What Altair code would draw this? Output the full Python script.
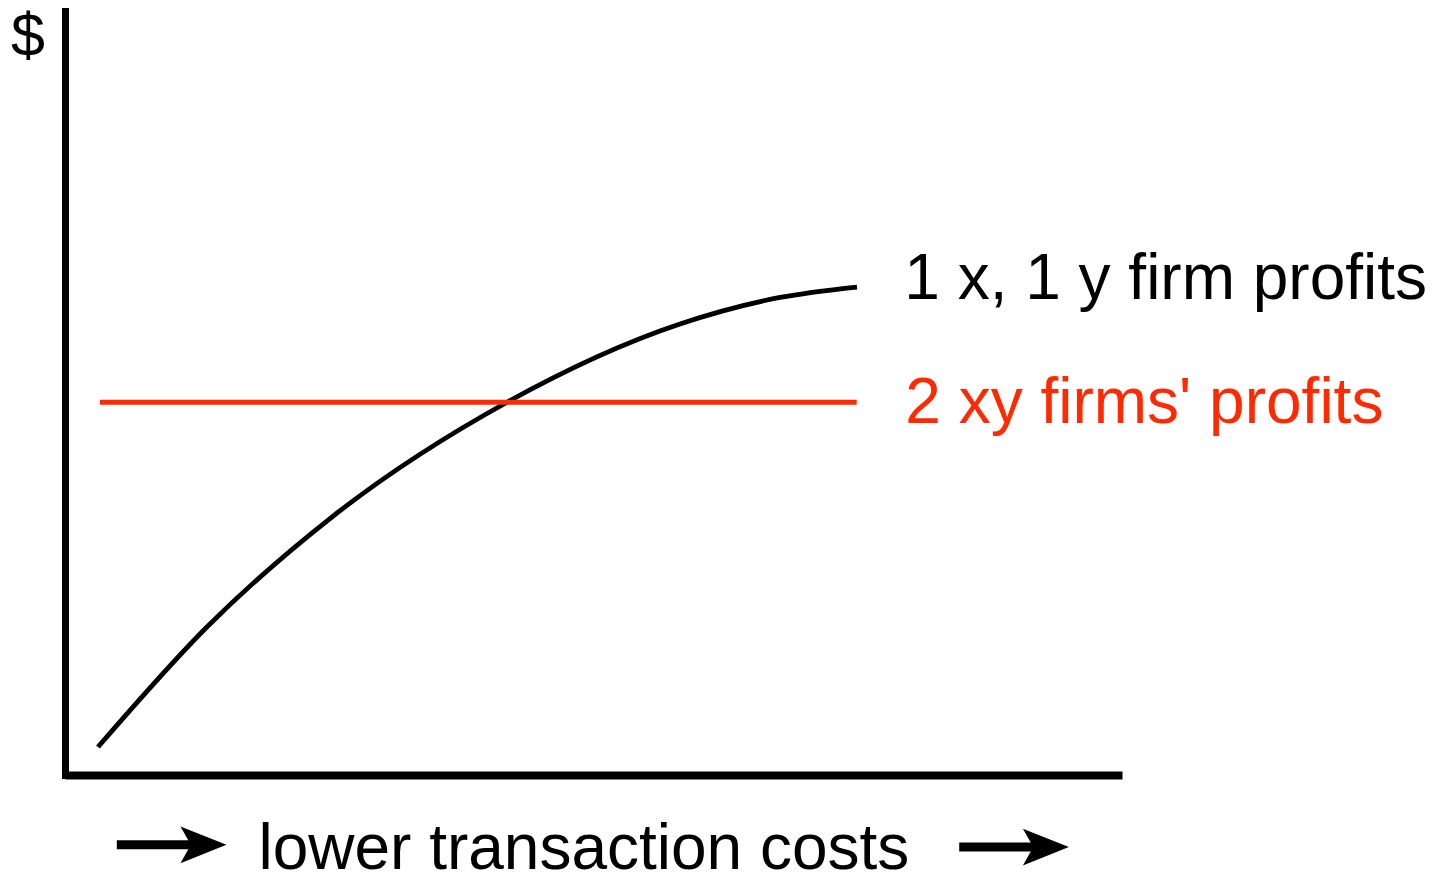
import altair as alt
import pandas as pd

# Curve: "1 x, 1 y firm profits" (arbitrary units 0-100)
curve_x = [3.12, 13.43, 25.07, 41.82, 58.18, 67.64, 74.93]
curve_y = [3.65, 19.30, 33.44, 48.60, 58.80, 62.26, 63.62]

# Flat line: "2 xy firms' profits"
flat_x = [3.3, 74.9]
flat_y = [48.6, 48.6]

# Labels
label_text = ["1 x, 1 y firm profits", "2 xy firms' profits"]
label_x = [79.4, 79.5]
label_y = [62.1, 45.9]
label_color = ["#000000", "#ff2a00"]

y_title = ["$"]
y_title_x = [-5.1]
y_title_y = [93.7]

x_title = ["lower transaction costs"]
x_title_x = [18.3]
x_title_y = [-12.2]

# Arrows under the x axis (shaft start, shaft end, head centre, y)
arrow_x1 = [4.9, 84.6]
arrow_x2 = [12.3, 91.8]
arrow_head = [13.1, 92.8]
arrow_y = [-9.1, -9.4]

RED = "#ff2a00"
FONT = "Liberation Sans"

xs = alt.Scale(domain=[0, 100], nice=False, zero=False)
ys = alt.Scale(domain=[0, 100], nice=False, zero=False)

curve_df = pd.DataFrame({"x": curve_x, "y": curve_y})
flat_df = pd.DataFrame({"x": flat_x, "y": flat_y})
label_df = pd.DataFrame({"t": label_text, "x": label_x, "y": label_y, "c": label_color})
ytitle_df = pd.DataFrame({"t": y_title, "x": y_title_x, "y": y_title_y})
xtitle_df = pd.DataFrame({"t": x_title, "x": x_title_x, "y": x_title_y})
arrow_df = pd.DataFrame({"x1": arrow_x1, "x2": arrow_x2, "h": arrow_head, "y": arrow_y})

x_axis = alt.Axis(domain=True, domainColor="#000000", domainWidth=8, ticks=False,
                  labels=False, grid=False, title=None)
y_axis = alt.Axis(domain=True, domainColor="#000000", domainWidth=7, ticks=False,
                  labels=False, grid=False, title=None, domainCap="square")

base_curve = alt.Chart(curve_df).mark_line(color="#000000", strokeWidth=4.8, interpolate="monotone").encode(
    x=alt.X("x:Q", scale=xs, axis=x_axis),
    y=alt.Y("y:Q", scale=ys, axis=y_axis),
)

flat = alt.Chart(flat_df).mark_line(color=RED, strokeWidth=5).encode(
    x=alt.X("x:Q", scale=xs), y=alt.Y("y:Q", scale=ys)
)

labels = alt.Chart(label_df).mark_text(align="left", baseline="alphabetic", font=FONT, fontSize=64).encode(
    x=alt.X("x:Q", scale=xs), y=alt.Y("y:Q", scale=ys), text="t:N",
    color=alt.Color("c:N", scale=None),
)

ytitle = alt.Chart(ytitle_df).mark_text(align="left", baseline="alphabetic", font=FONT, fontSize=61,
                                        color="#000000").encode(
    x=alt.X("x:Q", scale=xs), y=alt.Y("y:Q", scale=ys), text="t:N"
)

xtitle = alt.Chart(xtitle_df).mark_text(align="left", baseline="alphabetic", font=FONT, fontSize=64,
                                        color="#000000").encode(
    x=alt.X("x:Q", scale=xs), y=alt.Y("y:Q", scale=ys), text="t:N"
)

shafts = alt.Chart(arrow_df).mark_rule(color="#000000", strokeWidth=9, strokeCap="butt").encode(
    x=alt.X("x1:Q", scale=xs), x2="x2:Q", y=alt.Y("y:Q", scale=ys)
)

heads = alt.Chart(arrow_df).mark_point(
    shape="M-1,-0.8 L1,0 L-1,0.8 L-0.55,0 Z", filled=True, color="#000000", opacity=1, size=2116,
    strokeWidth=0,
).encode(x=alt.X("h:Q", scale=xs), y=alt.Y("y:Q", scale=ys))

chart = alt.layer(base_curve, flat, labels, ytitle, xtitle, shafts, heads).properties(
    width=1057, height=767,
    background="#ffffff",
    autosize=alt.AutoSizeParams(type="none"),
    padding={"left": 57, "top": 0, "right": 319, "bottom": 96},
).configure_view(stroke=None, strokeWidth=0)

chart.save("out.html", embed_options={"renderer": "svg", "actions": False})
